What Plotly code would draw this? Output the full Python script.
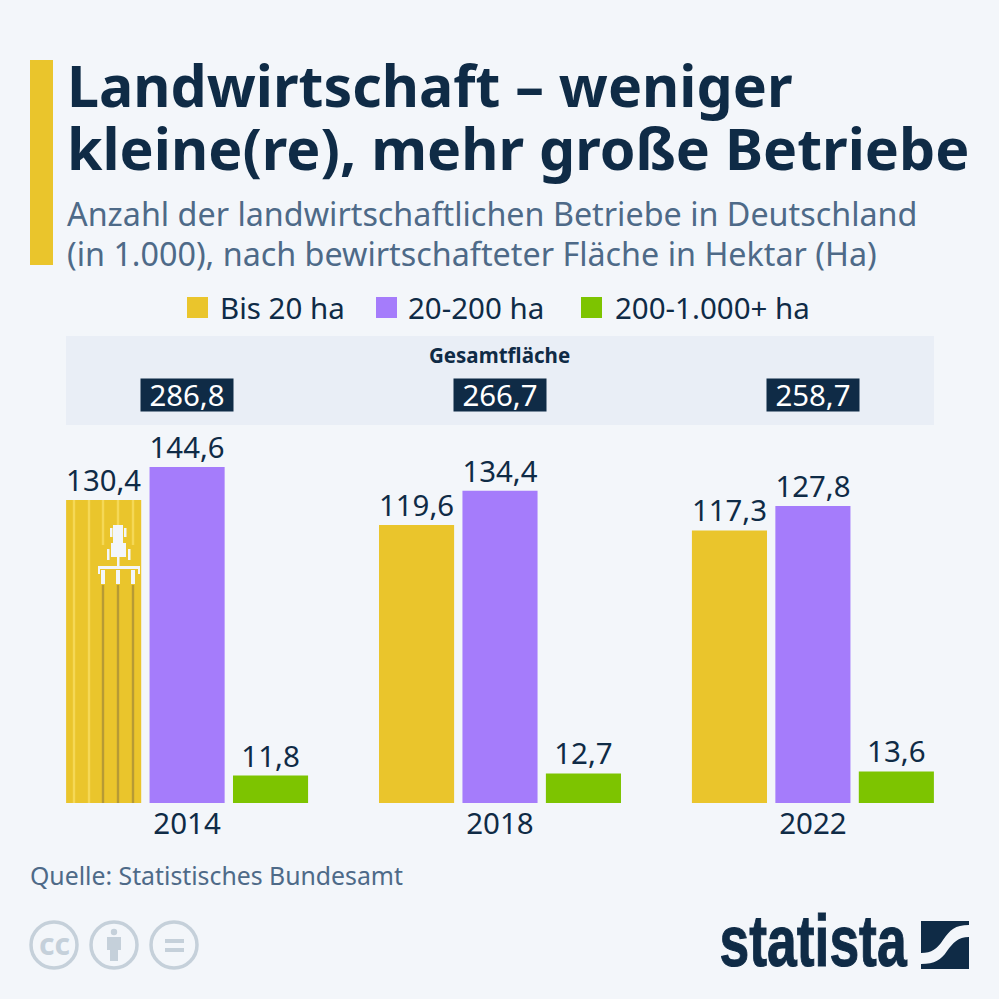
import plotly.graph_objects as go

years = ["2014", "2018", "2022"]
small = [130.4, 119.6, 117.3]
medium = [144.6, 134.4, 127.8]
large = [11.8, 12.7, 13.6]
totals = ["286,8", "266,7", "258,7"]
series_names = ["Bis 20 ha", "20-200 ha", "200-1.000+ ha"]

BG = "#F3F6FA"
BAND = "#E9EEF6"
NAVY = "#0F2B46"
MUTED = "#4E6A88"
YELLOW = "#EAC52C"
PURPLE = "#A57CFB"
GREEN = "#7DC400"
ICON = "#C5D0DA"
FONT = "Noto Sans"
S = 999.0


def X(v):
    return v / S


def Y(v):
    return 1 - v / S


shapes, annotations = [], []


def rect(x0, y0, x1, y1, color):
    shapes.append(dict(type="rect", xref="paper", yref="paper", x0=X(x0), x1=X(x1),
                       y0=Y(y0), y1=Y(y1), fillcolor=color, line_width=0))


def circle(cx, cy, r, fill, line, w=0):
    shapes.append(dict(type="circle", xref="paper", yref="paper", x0=X(cx - r), x1=X(cx + r),
                       y0=Y(cy - r), y1=Y(cy + r), fillcolor=fill, line=dict(color=line, width=w)))


def path(cmds, color):
    d = ""
    for c, pts in cmds:
        d += c + " ".join(f"{X(a):.5f},{Y(b):.5f}" for a, b in pts) + " "
    shapes.append(dict(type="path", xref="paper", yref="paper", path=d + "Z", fillcolor=color, line_width=0))


def text(x, y, s, size, color=NAVY, anchor="left", bold=False, family=FONT):
    annotations.append(dict(xref="paper", yref="paper", x=X(x), y=Y(y), text=f"<b>{s}</b>" if bold else s,
                            showarrow=False, xanchor=anchor, yanchor="middle", borderpad=0,
                            font=dict(family=family, size=size, color=color)))


# header
rect(30, 60, 53, 265, YELLOW)
text(66, 85, "Landwirtschaft – weniger", 57.3, bold=True)
text(66, 148, "kleine(re), mehr große Betriebe", 57.3, bold=True)
text(66, 212.5, "Anzahl der landwirtschaftlichen Betriebe in Deutschland", 32.3, MUTED)
text(66, 252.5, "(in 1.000), nach bewirtschafteter Fläche in Hektar (Ha)", 32.3, MUTED)

# legend
for sx, tx, col, name in zip((187, 376, 581), (219, 407, 614), (YELLOW, PURPLE, GREEN), series_names):
    rect(sx, 297, sx + 21, 318, col)
    text(tx, 307, name, 29.5)

# totals band
rect(66, 336, 934, 425, BAND)
text(499, 355, "Gesamtfläche", 20.5, anchor="center", bold=True)
for i, tot in enumerate(totals):
    annotations.append(dict(xref="x", yref="paper", x=i, y=Y(394.5), text=tot, showarrow=False,
                            xanchor="center", yanchor="middle", width=92, height=32, bgcolor=NAVY,
                            borderpad=0, font=dict(family=FONT, size=29.4, color="white")))

# tractor decoration on the first bar
for lx in (74, 89):
    rect(lx - 1.2, 500, lx + 1.2, 803, "#F5D856")
for lx in (103, 118, 133):
    rect(lx - 1.2, 500, lx + 1.2, 545, "#F5D856")
    rect(lx - 1.2, 585, lx + 1.2, 803, "#B69A35")
rect(113, 525, 123, 545, BG)
rect(111, 543, 126, 557, BG)
rect(117, 555, 119.5, 568, BG)
rect(110, 528, 112.5, 537, BG)
rect(124, 528, 126.5, 537, BG)
rect(107, 549, 109.5, 560, BG)
rect(128, 549, 130.5, 560, BG)
rect(98, 566, 140, 569, BG)
rect(98, 566, 100, 574, BG)
rect(138, 566, 140, 574, BG)
for lx in (103, 118, 133):
    rect(lx - 2, 570, lx + 2, 584, BG)

# source
text(29, 875, "Quelle: Statistisches Bundesamt", 24.8, MUTED)

# licence icons
for cx in (54, 114, 174):
    circle(cx, 945, 23, "rgba(0,0,0,0)", ICON, 3.5)
text(54, 943, "cc", 30, ICON, anchor="center", bold=True)
circle(114, 932, 3.2, ICON, ICON)
rect(107, 937, 121, 950, ICON)
rect(110, 950, 118, 961, ICON)
rect(165, 939, 184, 943, ICON)
rect(165, 948, 184, 952, ICON)

# statista logo
text(713.5, 944, "statista", 56, NAVY, bold=True, family="Liberation Sans")
path([("M", [(921, 921)]), ("L", [(969, 921)]), ("L", [(969, 925)]),
      ("C", [(955, 925), (950, 930), (943, 940)]), ("C", [(937, 949), (932, 953), (921, 953)])], NAVY)
path([("M", [(969, 937)]), ("C", [(958, 937), (953, 943), (947, 951)]), ("C", [(941, 960), (935, 964), (921, 964)]),
      ("L", [(921, 969)]), ("L", [(969, 969)])], NAVY)

fig = go.Figure()
for name, vals, col in zip(series_names, (small, medium, large), (YELLOW, PURPLE, GREEN)):
    fig.add_bar(x=years, y=vals, name=name, marker=dict(color=col, line_width=0),
                texttemplate="%{y:.1f}", textposition="outside", cliponaxis=False,
                textfont=dict(family=FONT, size=29.5, color=NAVY), hoverinfo="skip")

fig.update_layout(
    width=999, height=999, autosize=False, margin=dict(l=0, r=0, t=0, b=0, pad=0),
    paper_bgcolor=BG, plot_bgcolor=BG, showlegend=False, separators=",.",
    barmode="group", bargap=0.2, bargroupgap=0.1,
    shapes=shapes, annotations=annotations,
    xaxis=dict(domain=[X(66), X(934)], type="category", range=[-0.387, 2.387], showgrid=False,
               zeroline=False, showline=False, ticks="", ticklabelstandoff=0,
               tickfont=dict(family=FONT, size=29.5, color=NAVY)),
    yaxis=dict(domain=[Y(803), Y(430)], range=[0, 373 / 2.324], visible=False, showgrid=False, zeroline=False),
)
post = """
document.body.style.margin='0';
document.querySelectorAll('.annotation-text').forEach(function(t){
  if(t.textContent==='statista'){
    var b=t.getBBox(), cx=b.x+b.width/2, cy=b.y+b.height*0.72;
    t.setAttribute('transform','translate('+cx+','+cy+') scale(0.955,1.3) translate('+(-cx)+','+(-cy)+')');
    t.style.stroke='#0F2B46'; t.style.strokeWidth='0.8px';
  }
});
document.querySelectorAll('.bartext').forEach(function(t){
  t.setAttribute('transform','translate(0,3) '+(t.getAttribute('transform')||''));
});
"""
fig.write_html("out.html", post_script=post, config=dict(displayModeBar=False))
